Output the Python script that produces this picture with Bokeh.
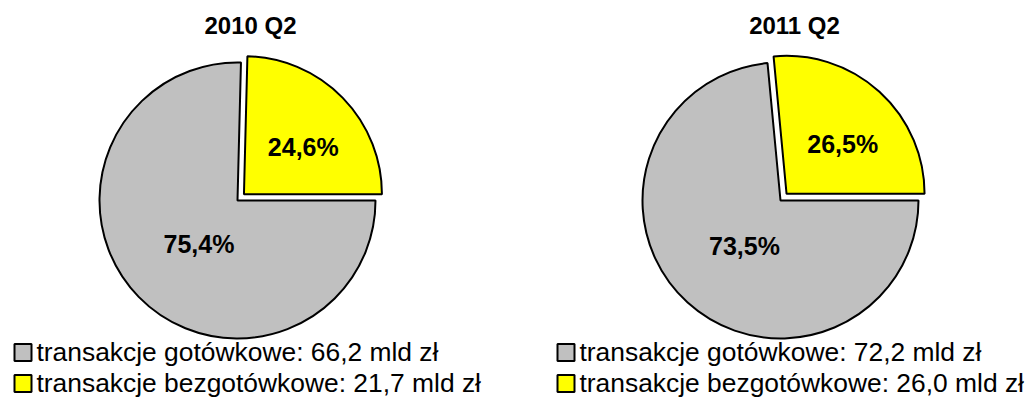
import math
from bokeh.plotting import figure
from bokeh.models import Range1d
from bokeh.core.properties import value
from bokeh.embed import file_html
from bokeh.resources import INLINE

# ---- data ----
periods = ["2010 Q2", "2011 Q2"]
categories = ["transakcje gotówkowe", "transakcje bezgotówkowe"]
cash_pct = [75.4, 73.5]
noncash_pct = [24.6, 26.5]
cash_value = [66.2, 72.2]
noncash_value = [21.7, 26.0]

# ---- style / layout (screen px) ----
FONT = "Liberation Sans"
GRAY = "#C0C0C0"
YELLOW = "#FFFF00"
R = 138
EXPLODE = 9
pie_cx = [237, 780]
pie_cy = 200
title_x = [250, 794]
title_mid = 25
legend_x = [13, 556]
legend_base = [361, 392]
LEG_FS = 26.4

W, H = 1028, 400
p = figure(width=W, height=H, x_range=Range1d(0, W), y_range=Range1d(-H, 0),
           output_backend="svg", toolbar_location=None, min_border=0,
           x_axis_location=None, y_axis_location=None)
p.grid.grid_line_color = None
p.outline_line_color = None
p.background_fill_color = "white"
p.border_fill_color = "white"


def fmt(v):
    return f"{v:.1f}".replace(".", ",")


for i in range(len(periods)):
    cx, cy = pie_cx[i], -pie_cy
    a_nc = noncash_pct[i] / 100 * 2 * math.pi
    # gray (cash) slice
    p.wedge(x=[cx], y=[cy], radius=R, start_angle=[a_nc], end_angle=[2 * math.pi],
            direction="anticlock", fill_color=GRAY, line_color="black", line_width=2)
    # yellow (non-cash) slice, exploded
    b = a_nc / 2
    ex, ey = cx + EXPLODE * math.cos(b), cy + EXPLODE * math.sin(b)
    p.wedge(x=[ex], y=[ey], radius=R, start_angle=[0], end_angle=[a_nc],
            direction="anticlock", fill_color=YELLOW, line_color="black", line_width=2)
    # data labels
    bg = a_nc + (2 * math.pi - a_nc) / 2
    gx = cx + 0.42 * R * math.cos(bg) + 3
    gy = cy + 0.42 * R * math.sin(bg) - 3
    yx = ex + 0.54 * R * math.cos(b) + 6
    yy = ey + 0.54 * R * math.sin(b) - 5
    p.text(x=[gx, yx], y=[gy, yy], text=[fmt(cash_pct[i]) + "%", fmt(noncash_pct[i]) + "%"],
           text_font=value(FONT), text_font_size="25px", text_font_style="bold",
           text_align="center", text_baseline="middle", text_color="black")
    # title
    p.text(x=[title_x[i]], y=[-title_mid], text=[periods[i]],
           text_font=value(FONT), text_font_size="24px", text_font_style="bold",
           text_align="center", text_baseline="middle", text_color="black")
    # legend
    vals = [cash_value[i], noncash_value[i]]
    cols = [GRAY, YELLOW]
    for k in range(2):
        base = legend_base[k]
        p.rect(x=[legend_x[i] + 9.5], y=[-(base - 9)], width=17, height=17,
               fill_color=cols[k], line_color="black", line_width=2)
        p.text(x=[legend_x[i] + 23], y=[-(base - 0.358 * LEG_FS)],
               text=[f"{categories[k]}: {fmt(vals[k])} mld zł"],
               text_font=value(FONT), text_font_size=f"{LEG_FS}px",
               text_align="left", text_baseline="middle", text_color="black")

open("out.html", "w").write(file_html(p, INLINE))
